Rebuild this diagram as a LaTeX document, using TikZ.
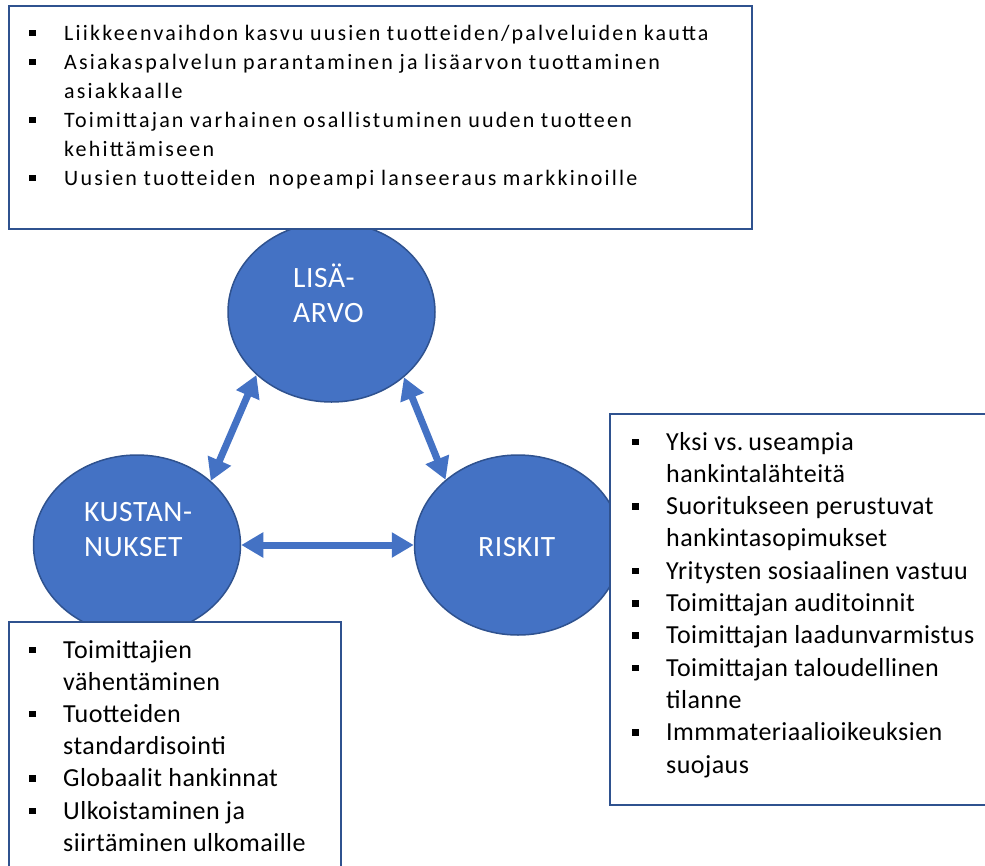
\documentclass[tikz,border=0pt]{standalone}
\usepackage{fontspec}
\setmainfont{Carlito}
\usetikzlibrary{shapes.geometric,arrows.meta}

\definecolor{fillblue}{HTML}{4472C4}
\definecolor{edgeblue}{HTML}{2F528F}

% square bullet and hanging list entry (continuation lines use \newline)
\newcommand{\sqbullet}[1]{\raisebox{#1}{\rule{6.5pt}{6.5pt}}}
\newcommand{\listentry}[3]{\noindent\hangindent=#1\hangafter=1\makebox[#1][l]{\sqbullet{#2}}#3\par}

\tikzset{
  bubble/.style={ellipse, fill=fillblue, draw=edgeblue, line width=1.5pt,
    minimum width=207pt, minimum height=180pt, inner sep=0pt},
  bubbletext/.style={anchor=base west, inner sep=0pt, text=white, align=left,
    font=\fontsize{29.5}{35}\selectfont\addfontfeature{LetterSpace=2}},
  listbox/.style={draw=edgeblue, line width=2pt, fill=white},
  listtext/.style={anchor=base west, inner sep=0pt},
  link/.style={fillblue, line width=7pt,
    {Triangle[width=24pt,length=22pt]}-{Triangle[width=24pt,length=22pt]}}
}

\begin{document}
\begin{tikzpicture}[x=1pt,y=-1pt]
\useasboundingbox (0,0) rectangle (985,865);

% the three themes
\node[bubble] (lisa) at (331.5,312) {};
\node[bubble] (kust) at (137,545) {};
\node[bubble] (risk) at (518,545) {};

\node[bubbletext] (lisalabel) at (293,322) {LISÄ-\\ARVO};
\node[bubbletext] (kustlabel) at (84,556) {KUSTAN-\\NUKSET};
\node[bubbletext] (risklabel) at (478,556) {RISKIT};

% two-way links between the themes
\draw[link] (kust.41.7) -- (lisa.220.2);
\draw[link] (lisa.318.2) -- (risk.138.3);
\draw[link] (kust.east) -- (risk.west);

% boxes listing the factors of each theme
\draw[listbox] (9,6) rectangle (752,229);
\draw[listbox] (9,622) rectangle (341,875);
\draw[listbox] (610,414) rectangle (995,805);

\node[listtext, text width=720pt] (topitems) at (29,40) {%
\fontsize{22}{29}\selectfont\addfontfeature{LetterSpace=10}\spaceskip=0.3em\relax\raggedright
\listentry{35pt}{4pt}{Liikkeenvaihdon kasvu uusien tuotteiden/palveluiden kautta}%
\listentry{35pt}{4pt}{Asiakaspalvelun parantaminen ja lisäarvon tuottaminen\newline asiakkaalle}%
\listentry{35pt}{4pt}{Toimittajan varhainen osallistuminen uuden tuotteen\newline kehittämiseen}%
\listentry{35pt}{4pt}{Uusien tuotteiden\ \ nopeampi lanseeraus markkinoille}};

\node[listtext, text width=310pt] (costitems) at (29,658) {%
\fontsize{26}{32.2}\selectfont\addfontfeature{LetterSpace=1.8}\spaceskip=0.24em\relax\raggedright
\listentry{34pt}{5pt}{Toimittajien\newline vähentäminen}%
\listentry{34pt}{5pt}{Tuotteiden\newline standardisointi}%
\listentry{34pt}{5pt}{Globaalit hankinnat}%
\listentry{34pt}{5pt}{Ulkoistaminen ja\newline siirtäminen ulkomaille}};

\node[listtext, text width=360pt] (riskitems) at (632,450) {%
\fontsize{26}{32.3}\selectfont\addfontfeature{LetterSpace=1.8}\spaceskip=0.24em\relax\raggedright
\listentry{34pt}{5pt}{Yksi vs. useampia\newline hankintalähteitä}%
\listentry{34pt}{5pt}{Suoritukseen perustuvat\newline hankintasopimukset}%
\listentry{34pt}{5pt}{Yritysten sosiaalinen vastuu}%
\listentry{34pt}{5pt}{Toimittajan auditoinnit}%
\listentry{34pt}{5pt}{Toimittajan laadunvarmistus}%
\listentry{34pt}{5pt}{Toimittajan taloudellinen\newline tilanne}%
\listentry{34pt}{5pt}{Immmateriaalioikeuksien\newline suojaus}};
\end{tikzpicture}
\end{document}
